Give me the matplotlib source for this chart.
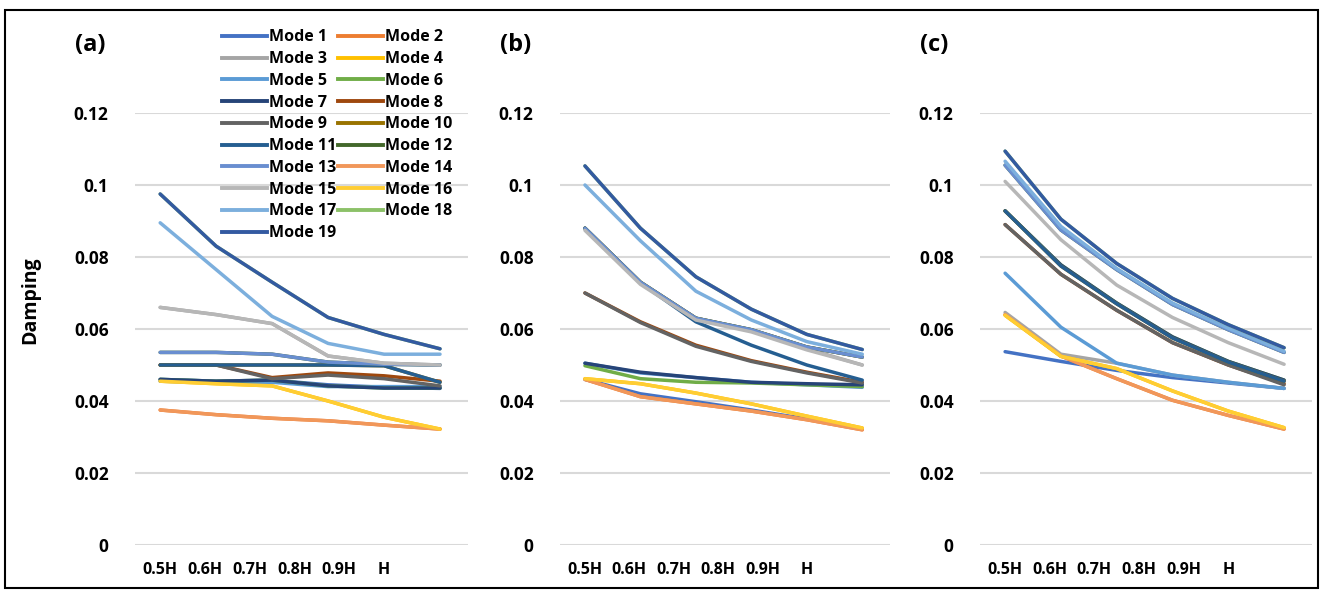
import numpy as np
import matplotlib
matplotlib.use("Agg")
import matplotlib.pyplot as plt
from matplotlib.patches import Rectangle
from matplotlib.lines import Line2D

plt.rcParams['font.family'] = ['Open Sans', 'DejaVu Sans']
plt.rcParams['font.weight'] = 'bold'

heights = ['0.5H', '0.6H', '0.7H', '0.8H', '0.9H', 'H']
modes = [f'Mode {i}' for i in range(1, 20)]
colors = ['#4472C4', '#ED7D31', '#A5A5A5', '#FFC000', '#5B9BD5', '#70AD47',
          '#264478', '#9E480E', '#636363', '#997300', '#255E91', '#43682B',
          '#698ED0', '#F1975A', '#B7B7B7', '#FFCD33', '#7CAFDD', '#8CC168',
          '#335AA1']

# damping per mode (rows) and height (columns)
damp_a = np.array([
    [0.0460, 0.0455, 0.0458, 0.0445, 0.0438, 0.0435],
    [0.0375, 0.0362, 0.0352, 0.0345, 0.0333, 0.0322],
    [0.0660, 0.0640, 0.0615, 0.0525, 0.0505, 0.0500],
    [0.0455, 0.0448, 0.0442, 0.0400, 0.0355, 0.0322],
    [0.0455, 0.0452, 0.0452, 0.0440, 0.0440, 0.0440],
    [0.0460, 0.0455, 0.0458, 0.0442, 0.0436, 0.0436],
    [0.0460, 0.0455, 0.0458, 0.0442, 0.0436, 0.0436],
    [0.0500, 0.0500, 0.0465, 0.0478, 0.0470, 0.0455],
    [0.0500, 0.0500, 0.0462, 0.0472, 0.0462, 0.0442],
    [0.0500, 0.0500, 0.0500, 0.0500, 0.0498, 0.0452],
    [0.0500, 0.0500, 0.0500, 0.0500, 0.0498, 0.0452],
    [0.0535, 0.0535, 0.0530, 0.0508, 0.0502, 0.0500],
    [0.0535, 0.0535, 0.0530, 0.0508, 0.0502, 0.0500],
    [0.0375, 0.0362, 0.0352, 0.0345, 0.0333, 0.0322],
    [0.0660, 0.0640, 0.0615, 0.0525, 0.0505, 0.0500],
    [0.0455, 0.0448, 0.0442, 0.0400, 0.0355, 0.0322],
    [0.0895, 0.0765, 0.0635, 0.0560, 0.0530, 0.0530],
    [0.0975, 0.0830, 0.0730, 0.0632, 0.0585, 0.0545],
    [0.0975, 0.0830, 0.0730, 0.0632, 0.0585, 0.0545],
])

damp_b = np.array([
    [0.0460, 0.0420, 0.0398, 0.0375, 0.0350, 0.0322],
    [0.0460, 0.0412, 0.0392, 0.0372, 0.0348, 0.0320],
    [0.0880, 0.0730, 0.0630, 0.0595, 0.0545, 0.0500],
    [0.0462, 0.0448, 0.0422, 0.0392, 0.0358, 0.0325],
    [0.0505, 0.0478, 0.0465, 0.0452, 0.0445, 0.0438],
    [0.0498, 0.0462, 0.0452, 0.0450, 0.0445, 0.0440],
    [0.0505, 0.0480, 0.0465, 0.0452, 0.0448, 0.0445],
    [0.0700, 0.0620, 0.0555, 0.0512, 0.0480, 0.0452],
    [0.0700, 0.0618, 0.0552, 0.0510, 0.0478, 0.0450],
    [0.0880, 0.0730, 0.0630, 0.0598, 0.0550, 0.0522],
    [0.0880, 0.0728, 0.0620, 0.0555, 0.0500, 0.0458],
    [0.0880, 0.0730, 0.0630, 0.0598, 0.0550, 0.0522],
    [0.0880, 0.0730, 0.0630, 0.0598, 0.0550, 0.0522],
    [0.0460, 0.0412, 0.0392, 0.0372, 0.0348, 0.0320],
    [0.0874, 0.0724, 0.0625, 0.0592, 0.0542, 0.0500],
    [0.0462, 0.0448, 0.0422, 0.0392, 0.0358, 0.0325],
    [0.1000, 0.0845, 0.0705, 0.0625, 0.0565, 0.0530],
    [0.1053, 0.0880, 0.0745, 0.0655, 0.0585, 0.0543],
    [0.1053, 0.0880, 0.0745, 0.0655, 0.0585, 0.0543],
])

damp_c = np.array([
    [0.0537, 0.0510, 0.0485, 0.0465, 0.0450, 0.0435],
    [0.0640, 0.0525, 0.0462, 0.0402, 0.0360, 0.0322],
    [0.0646, 0.0530, 0.0505, 0.0472, 0.0452, 0.0435],
    [0.0638, 0.0524, 0.0490, 0.0428, 0.0372, 0.0326],
    [0.0755, 0.0605, 0.0505, 0.0472, 0.0452, 0.0435],
    [0.0928, 0.0778, 0.0672, 0.0578, 0.0510, 0.0458],
    [0.0928, 0.0778, 0.0672, 0.0578, 0.0510, 0.0458],
    [0.0890, 0.0752, 0.0652, 0.0562, 0.0500, 0.0448],
    [0.0890, 0.0752, 0.0652, 0.0562, 0.0500, 0.0445],
    [0.0928, 0.0775, 0.0670, 0.0575, 0.0508, 0.0455],
    [0.0928, 0.0775, 0.0670, 0.0575, 0.0508, 0.0455],
    [0.1055, 0.0875, 0.0765, 0.0668, 0.0598, 0.0535],
    [0.1055, 0.0875, 0.0765, 0.0668, 0.0598, 0.0535],
    [0.0640, 0.0525, 0.0462, 0.0402, 0.0360, 0.0322],
    [0.1010, 0.0848, 0.0722, 0.0632, 0.0562, 0.0502],
    [0.0638, 0.0524, 0.0490, 0.0428, 0.0372, 0.0326],
    [0.1066, 0.0885, 0.0768, 0.0672, 0.0602, 0.0538],
    [0.1094, 0.0905, 0.0782, 0.0685, 0.0612, 0.0548],
    [0.1094, 0.0905, 0.0782, 0.0685, 0.0612, 0.0548],
])

W, H = 1325, 590
fig = plt.figure(figsize=(W / 100, H / 100), dpi=100)

# axes boxes in pixels: left, width (x data step ~56 px)
boxes = [(135, 333), (560, 330), (980, 332)]
panels = [damp_a, damp_b, damp_c]
tags = ['(a)', '(b)', '(c)']
x = np.arange(len(heights))

for (left, width), data, tag in zip(boxes, panels, tags):
    ax = fig.add_axes([left / W, 45 / H, width / W, 432 / H])
    for i in range(len(modes)):
        ax.plot(x, data[i], color=colors[i], lw=2.5, solid_capstyle='round')
    ax.set_xlim(-0.45, 5.5)
    ax.set_ylim(0, 0.12)
    ax.set_yticks([0, 0.02, 0.04, 0.06, 0.08, 0.1, 0.12])
    ax.set_yticklabels(['0', '0.02', '0.04', '0.06', '0.08', '0.1', '0.12'])
    ax.set_xticks(x * 0.8)
    ax.set_xticklabels(heights)
    ax.yaxis.grid(True, color='#D9D9D9', lw=1.5)
    ax.set_axisbelow(True)
    for s in ax.spines.values():
        s.set_visible(False)
    ax.tick_params(axis='y', length=0, pad=19, labelsize=12.5)
    ax.tick_params(axis='x', length=0, pad=12, labelsize=11.5)
    fig.text((left - 60) / W, 1 - 45 / H, tag, fontsize=17, fontweight='bold',
             ha='left', va='center')

fig.text(30 / W, 1 - 300 / H, 'Damping', rotation=90, fontsize=14,
         fontweight='bold', ha='center', va='center')

# legend filled row by row like the original
order = list(range(0, 19, 2)) + list(range(1, 19, 2))
handles = [Line2D([0], [0], color=colors[i], lw=2.8) for i in order]
labels = [modes[i] for i in order]
fig.legend(handles, labels, loc='upper left', bbox_to_anchor=(216 / W, 1 - 23 / H),
           ncol=2, frameon=False, prop={'weight': 'bold', 'size': 11.5},
           handlelength=2.8, handletextpad=0.1, columnspacing=0.15,
           labelspacing=0.36, borderaxespad=0)

fig.patches.append(Rectangle((5 / W, 2 / H), 1313 / W, 578 / H,
                             transform=fig.transFigure, fill=False,
                             lw=1.5, ec='black'))

fig.savefig('out.png', dpi=100, facecolor='white')
